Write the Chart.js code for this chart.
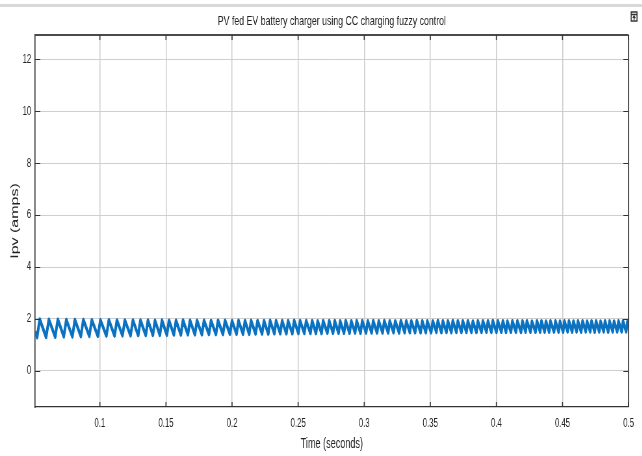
<!DOCTYPE html>
<html>
<head>
<meta charset="utf-8">
<script src="https://cdn.jsdelivr.net/npm/chart.js@4.4.1/dist/chart.umd.min.js"></script>
<style>
  html, body { margin: 0; padding: 0; background: #fff; overflow: hidden; width: 642px; height: 456px; }
  /* the figure is laid out wide and squeezed horizontally, like a resized scope window */
  #frame { position: absolute; left: 0; top: 0; width: 988px; height: 456px;
           transform: scaleX(0.65); transform-origin: 0 0; }
</style>
</head>
<body>
<div id="frame"><canvas id="scope"></canvas></div>
<script>
// PV current (A) turning points of the charger ripple
const leadTimes = [0.0510, 0.0525];
const leadAmps  = [1.52, 1.29];

const peakTimes = [
  0.0545, 0.0614, 0.0682, 0.0746, 0.0811, 0.0875, 0.0939, 0.1004, 0.1068, 0.1129, 0.1189, 0.1250,
  0.1307, 0.1364, 0.1417, 0.1470, 0.1523, 0.1576, 0.1629, 0.1682, 0.1735, 0.1788, 0.1841, 0.1894, 0.1947, 0.2000, 0.2049,
  0.2098, 0.2144, 0.2193, 0.2242, 0.2288, 0.2333, 0.2379, 0.2424, 0.2470, 0.2515, 0.2561, 0.2606, 0.2648, 0.2689, 0.2735, 0.2777, 0.2818,
  0.2860, 0.2902, 0.2943, 0.2985, 0.3027, 0.3068, 0.3110, 0.3152, 0.3193, 0.3235, 0.3277, 0.3318, 0.3356, 0.3398, 0.3439, 0.3477, 0.3519, 0.3557,
  0.3595, 0.3633, 0.3670, 0.3708, 0.3746, 0.3784, 0.3822, 0.3860, 0.3898, 0.3936, 0.3973, 0.4011, 0.4049, 0.4083, 0.4121, 0.4159, 0.4197, 0.4231, 0.4269, 0.4307,
  0.4341, 0.4375, 0.4409, 0.4447, 0.4481, 0.4515, 0.4549, 0.4583, 0.4617, 0.4652, 0.4686, 0.4720, 0.4754, 0.4788, 0.4822, 0.4856, 0.4890, 0.4924, 0.4958, 0.4992
];
const peakAmps = [
  1.99, 1.98, 1.98, 1.97, 1.97, 1.97, 1.96, 1.96, 1.96, 1.95, 1.95, 1.95,
  1.95, 1.95, 1.94, 1.95, 1.94, 1.94, 1.95, 1.94, 1.94, 1.94, 1.93, 1.94, 1.94, 1.93, 1.94,
  1.93, 1.94, 1.93, 1.93, 1.94, 1.93, 1.93, 1.93, 1.94, 1.93, 1.93, 1.93, 1.92, 1.93, 1.93, 1.93, 1.92,
  1.93, 1.92, 1.93, 1.93, 1.92, 1.93, 1.92, 1.93, 1.92, 1.92, 1.93, 1.92, 1.92, 1.93, 1.92, 1.92, 1.92, 1.93,
  1.92, 1.92, 1.93, 1.92, 1.92, 1.92, 1.91, 1.92, 1.92, 1.92, 1.93, 1.92, 1.92, 1.91, 1.92, 1.92, 1.92, 1.92, 1.91, 1.92,
  1.92, 1.91, 1.92, 1.92, 1.91, 1.92, 1.92, 1.91, 1.92, 1.92, 1.91, 1.92, 1.92, 1.91, 1.92, 1.92, 1.91, 1.92, 1.92, 1.91
];
const troughTimes = [
  0.0593, 0.0662, 0.0727, 0.0792, 0.0856, 0.0920, 0.0985, 0.1049, 0.1111, 0.1171, 0.1232, 0.1290,
  0.1347, 0.1401, 0.1454, 0.1507, 0.1560, 0.1613, 0.1666, 0.1719, 0.1772, 0.1825, 0.1878, 0.1931, 0.1984, 0.2034, 0.2083,
  0.2130, 0.2178, 0.2227, 0.2274, 0.2320, 0.2365, 0.2411, 0.2456, 0.2502, 0.2547, 0.2593, 0.2635, 0.2677, 0.2721, 0.2764, 0.2806, 0.2847,
  0.2889, 0.2931, 0.2972, 0.3014, 0.3056, 0.3097, 0.3139, 0.3181, 0.3222, 0.3264, 0.3306, 0.3345, 0.3385, 0.3427, 0.3466, 0.3506, 0.3546, 0.3584,
  0.3622, 0.3659, 0.3697, 0.3735, 0.3773, 0.3811, 0.3849, 0.3887, 0.3925, 0.3962, 0.4000, 0.4038, 0.4073, 0.4110, 0.4148, 0.4186, 0.4221, 0.4258, 0.4296, 0.4331,
  0.4365, 0.4399, 0.4436, 0.4471, 0.4505, 0.4539, 0.4573, 0.4607, 0.4641, 0.4676, 0.4710, 0.4744, 0.4778, 0.4812, 0.4846, 0.4880, 0.4914, 0.4948, 0.4982, 0.5000
];
const troughAmps = [
  1.30, 1.31, 1.32, 1.32, 1.33, 1.34, 1.34, 1.35, 1.35, 1.36, 1.36, 1.37,
  1.37, 1.38, 1.38, 1.38, 1.39, 1.39, 1.40, 1.40, 1.40, 1.41, 1.41, 1.41, 1.42, 1.42, 1.42,
  1.42, 1.43, 1.43, 1.43, 1.44, 1.44, 1.44, 1.44, 1.45, 1.45, 1.45, 1.45, 1.45, 1.46, 1.46, 1.46, 1.46,
  1.46, 1.47, 1.46, 1.47, 1.47, 1.47, 1.47, 1.47, 1.48, 1.47, 1.48, 1.48, 1.48, 1.48, 1.48, 1.48, 1.49, 1.48,
  1.49, 1.48, 1.49, 1.49, 1.49, 1.49, 1.49, 1.49, 1.50, 1.49, 1.49, 1.50, 1.49, 1.50, 1.50, 1.49, 1.50, 1.50, 1.50, 1.50,
  1.50, 1.50, 1.51, 1.50, 1.50, 1.51, 1.50, 1.51, 1.50, 1.51, 1.51, 1.50, 1.51, 1.51, 1.50, 1.51, 1.51, 1.51, 1.51, 1.66
];

const xTickValues = [0.1, 0.15, 0.2, 0.25, 0.3, 0.35, 0.4, 0.45, 0.5];
const xTickLabels = ['0.1', '0.15', '0.2', '0.25', '0.3', '0.35', '0.4', '0.45', '0.5'];
const yTickValues = [0, 2, 4, 6, 8, 10, 12];
const yTickLabels = ['0', '2', '4', '6', '8', '10', '12'];

const chartTitle = 'PV fed EV battery charger using CC charging fuzzy control';
const xTitle = 'Time (seconds)';
const yTitle = 'Ipv (amps)';

// interleave the turning points into one trace
const trace = [];
leadTimes.forEach((t, i) => trace.push({ x: t, y: leadAmps[i] }));
peakTimes.forEach((t, i) => {
  trace.push({ x: t, y: peakAmps[i] });
  trace.push({ x: troughTimes[i], y: troughAmps[i] });
});

const FONT = "'Liberation Sans', Arial, sans-serif";
const TEXT = '#222222';

const scopeFrame = {
  id: 'scopeFrame',
  beforeDraw(chart) {
    const { ctx, width, height } = chart;
    ctx.save();
    ctx.fillStyle = '#ffffff';
    ctx.fillRect(0, 0, width, height);
    // window edge strip
    ctx.fillStyle = '#d9d9d9';
    ctx.fillRect(0, 4, width, 3);
    ctx.restore();
  },
  afterDraw(chart) {
    const { ctx, chartArea: a } = chart;
    const xs = chart.scales.x, ys = chart.scales.y;
    ctx.save();
    // top and right edges of the axes box
    ctx.strokeStyle = '#4a4a4a';
    ctx.lineWidth = 2;
    ctx.beginPath();
    ctx.moveTo(a.left, a.top);
    ctx.lineTo(a.right, a.top);
    ctx.stroke();
    ctx.strokeStyle = '#333';
    ctx.lineWidth = 1.6;
    ctx.beginPath();
    ctx.moveTo(a.right, a.top);
    ctx.lineTo(a.right, a.bottom);
    ctx.stroke();
    // inward tick marks
    ctx.strokeStyle = '#333';
    ctx.lineWidth = 1;
    yTickValues.forEach(v => {
      const y = Math.round(ys.getPixelForValue(v)) + 0.5;
      ctx.beginPath();
      ctx.moveTo(a.left, y); ctx.lineTo(a.left + 8, y);
      ctx.moveTo(a.right, y); ctx.lineTo(a.right - 8, y);
      ctx.stroke();
    });
    ctx.lineWidth = 1.6;
    xTickValues.forEach(v => {
      const x = xs.getPixelForValue(v);
      ctx.beginPath();
      ctx.moveTo(x, a.bottom); ctx.lineTo(x, a.bottom - 5);
      ctx.moveTo(x, a.top); ctx.lineTo(x, a.top + 5);
      ctx.stroke();
    });
    // small dock button at the top right
    const bx = a.right + 4, by = 12;
    ctx.strokeStyle = '#333';
    ctx.lineWidth = 1.5;
    ctx.strokeRect(bx, by, 9, 9);
    ctx.beginPath();
    ctx.moveTo(bx, by + 2.5); ctx.lineTo(bx + 9, by + 2.5);
    ctx.moveTo(bx + 4.5, by + 8); ctx.lineTo(bx + 4.5, by + 4);
    ctx.moveTo(bx + 2.5, by + 6); ctx.lineTo(bx + 4.5, by + 4); ctx.lineTo(bx + 6.5, by + 6);
    ctx.stroke();
    ctx.restore();
  }
};

new Chart(document.getElementById('scope'), {
  type: 'line',
  data: {
    datasets: [{
      data: trace,
      borderColor: '#0a72c0',
      borderWidth: 4,
      pointRadius: 0,
      tension: 0,
      fill: false,
      borderJoinStyle: 'round'
    }]
  },
  options: {
    responsive: true,
    maintainAspectRatio: false,
    animation: false,
    events: [],
    layout: { padding: { left: 0, right: 21, top: 0, bottom: 0 } },
    plugins: {
      legend: { display: false },
      tooltip: { enabled: false },
      title: {
        display: true,
        text: chartTitle,
        fullSize: false,
        color: TEXT,
        font: { family: FONT, size: 13.5, weight: 'normal', lineHeight: 1.2 },
        padding: { top: 13.5, bottom: 5.3 }
      }
    },
    scales: {
      x: {
        type: 'linear',
        min: 0.051,
        max: 0.5,
        afterBuildTicks: s => { s.ticks = xTickValues.map(v => ({ value: v })); },
        afterFit: s => { s.height = 49; },
        grid: { color: '#cccccc', lineWidth: 1.5, drawTicks: false },
        border: { color: '#333', width: 1.2 },
        ticks: {
          color: TEXT,
          font: { family: FONT, size: 12 },
          padding: 9,
          maxRotation: 0,
          autoSkip: false,
          callback: (v, i) => xTickLabels[i]
        },
        title: {
          display: true,
          text: xTitle,
          color: TEXT,
          font: { family: FONT, size: 14, lineHeight: 1.2 },
          padding: { top: 0, bottom: 3.6 }
        }
      },
      y: {
        type: 'linear',
        min: -1.39,
        max: 12.94,
        afterBuildTicks: s => { s.ticks = yTickValues.map(v => ({ value: v })); },
        afterFit: s => { s.width = 54; },
        grid: { color: '#cfcfcf', lineWidth: 1, drawTicks: false },
        border: { color: '#333', width: 1.6 },
        ticks: {
          color: TEXT,
          font: { family: FONT, size: 12 },
          padding: 6,
          autoSkip: false,
          callback: (v, i) => yTickLabels[i]
        },
        title: {
          display: true,
          text: yTitle,
          color: TEXT,
          font: { family: FONT, size: 16, weight: 'normal', lineHeight: 1.2 },
          padding: { top: 14, bottom: 0 }
        }
      }
    }
  },
  plugins: [scopeFrame]
});
</script>
</body>
</html>
